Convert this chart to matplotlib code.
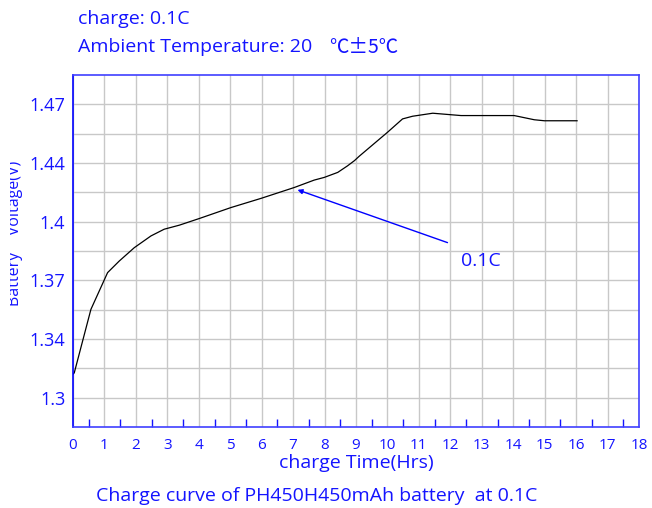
import numpy as np
import matplotlib
matplotlib.use('Agg')
import matplotlib.pyplot as plt
from matplotlib.transforms import Bbox, TransformedBbox

plt.rcParams['font.family'] = ['Open Sans', 'Noto Sans CJK SC', 'DejaVu Sans']

# charge curve
hours = [0.0, 0.04, 0.57, 1.10, 1.47, 1.95, 2.48, 2.90, 3.38, 4.02, 5.02, 5.98, 7.04,
         7.67, 7.99, 8.42, 8.73, 8.95, 9.10, 10.0, 10.48, 10.80, 11.44, 12.34, 14.03,
         14.67, 14.99, 16.03]
volts = [1.3140, 1.3148, 1.3527, 1.3746, 1.3815, 1.3895, 1.3965, 1.4005, 1.4029, 1.4069,
         1.4134, 1.4189, 1.4254, 1.4298, 1.4314, 1.4344, 1.4383, 1.4414, 1.4440, 1.4583,
         1.4663, 1.4679, 1.4697, 1.4683, 1.4683, 1.4658, 1.4652, 1.4652]

x_ticks = list(range(19))
y_ticks = [1.3, 1.335, 1.37, 1.405, 1.44, 1.475]
y_labels = ['1.3', '1.34', '1.37', '1.4', '1.44', '1.47']

blue = '#1414ff'
spine_blue = '#4040ff'

fig = plt.figure(figsize=(6.52, 5.08), dpi=100)
ax = fig.add_axes([73 / 652, 1 - 427 / 508, (639 - 73) / 652, (427 - 75) / 508])

ax.plot(hours, volts, color='black', lw=0.9)

ax.set_xlim(0, 18)
ax.set_ylim(1.2825, 1.4925)

ax.set_xticks(x_ticks)
ax.set_xticklabels([str(v) for v in x_ticks])
ax.set_xticks(np.arange(0.5, 18, 1.0), minor=True)
ax.set_yticks(y_ticks)
ax.set_yticklabels(y_labels)
ax.set_yticks(np.arange(1.2825 + 0.0175, 1.4925, 0.0175), minor=True)

ax.tick_params(axis='x', which='major', length=0, pad=8, labelsize=11, labelcolor=blue)
ax.tick_params(axis='x', which='minor', length=6, direction='in', color=blue, width=1)
ax.tick_params(axis='y', which='both', length=0, pad=5.5, labelsize=13, labelcolor=blue)

ax.xaxis.grid(True, which='major', color='#c8c8c8', lw=1)
ax.yaxis.grid(True, which='both', color='#c8c8c8', lw=1)
ax.set_axisbelow(True)

for side in ['left', 'bottom', 'right', 'top']:
    ax.spines[side].set_color(spine_blue)
    ax.spines[side].set_linewidth(1.2)
ax.spines['left'].set_color('blue')

ax.annotate('', xy=(7.14, 1.4240), xytext=(11.91, 1.3925),
            arrowprops=dict(arrowstyle='-|>', color='blue', lw=1, mutation_scale=7,
                            shrinkA=0, shrinkB=0))
ax.text(12.97, 1.3815, '0.1C', color=blue, fontsize=14, ha='center', va='center')

ax.set_xlabel('charge Time(Hrs)', color=blue, fontsize=14, labelpad=1)

fig.text(78 / 652, 1 - 19 / 508, 'charge: 0.1C', color=blue, fontsize=14, va='center')
fig.text(78 / 652, 1 - 47 / 508, 'Ambient Temperature: 20', color=blue,
         fontsize=14, va='center')
fig.text(329 / 652, 1 - 47 / 508, '\u2103\u00b15\u2103', color=blue, fontsize=14,
         va='center', family=['Noto Sans CJK SC', 'DejaVu Sans'])

ylab = fig.text(15 / 652, 1 - 233 / 508, 'Battery    Voltage(V)', color=blue,
                fontsize=11.5, rotation=90, ha='center', va='center')
ylab.set_clip_on(True)
ylab.set_clip_box(TransformedBbox(Bbox([[10 / 652, 0], [1, 1]]), fig.transFigure))

fig.text(317 / 652, 1 - 496 / 508, 'Charge curve of PH450H450mAh battery  at 0.1C',
         color=blue, fontsize=14, ha='center', va='center')

fig.savefig('out.png', dpi=100)
